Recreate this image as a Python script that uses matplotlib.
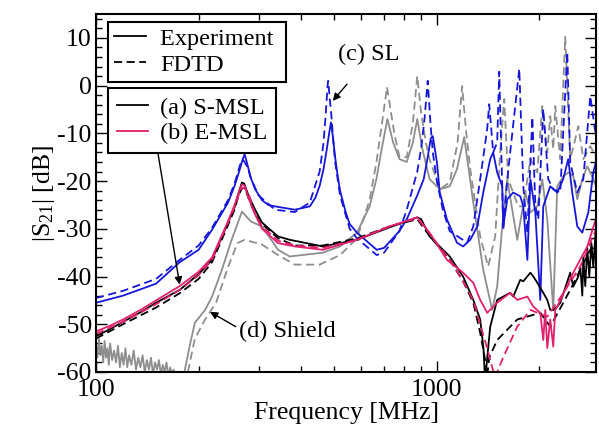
import matplotlib
matplotlib.use("Agg")
import matplotlib.pyplot as plt
from matplotlib.lines import Line2D
from matplotlib.ticker import FixedLocator, FixedFormatter, MultipleLocator, NullFormatter

plt.rcParams['font.family'] = ['Liberation Serif', 'DejaVu Serif']
plt.rcParams['mathtext.fontset'] = 'custom'
plt.rcParams['mathtext.rm'] = 'Liberation Serif'
plt.rcParams['mathtext.it'] = 'Liberation Serif:italic'
plt.rcParams['axes.unicode_minus'] = False

# (c) SL - blue
sl_exp_f = [100, 120, 150, 176, 200, 219, 244, 255, 263, 270, 273, 278, 285, 293, 307, 320, 335,
            383, 424, 440, 453, 465, 475, 483, 489, 495, 503, 512, 520, 540, 555, 583, 666, 700,
            776, 816, 876, 915, 940, 960, 973, 985, 1000, 1020, 1070, 1145, 1194, 1253, 1314,
            1368, 1434, 1463, 1503, 1555, 1566, 1609, 1675, 1757, 1793, 1843, 1881, 1945, 2011,
            2052, 2151, 2255, 2348, 2429, 2496, 2582, 2671, 2781, 2877, 2975]
sl_exp_db = [-45.5, -44, -41.5, -37, -34.4, -30.2, -24.5, -21, -18, -15.2, -14.4, -16.5, -19.5,
             -21.7, -24, -25, -25.3, -26, -25.3, -23.5, -21, -17.5, -13.5, -10, -7.7, -10.5, -15,
             -19, -22, -26.5, -29, -30.8, -34.4, -34, -30.5, -28, -23, -19.6, -15, -11, -10.6,
             -13, -16, -22.4, -28, -32.9, -33.7, -32.3, -29.5, -22.4, -15.4, -14, -18.2, -21.1,
             -29.5, -23.8, -22.4, -23.2, -25.3, -36.5, -19.6, -26.6, -44.9, -25.3, -21.1, -22.4,
             -19.6, -15.4, -22.4, -29.5, -30.8, -26.6, -18.2, -14]
sl_fdtd_f = [100, 120, 150, 176, 200, 219, 244, 255, 265, 270, 278, 285, 300, 335, 383, 424, 453,
             465, 472, 478, 480, 484, 490, 496, 503, 520, 555, 583, 666, 700, 776, 816, 876, 900,
             920, 935, 940, 948, 958, 973, 1000, 1041, 1091, 1227, 1279, 1340, 1405, 1424, 1463,
             1503, 1524, 1555, 1566, 1609, 1745, 1793, 1843, 1906, 1945, 1984, 2052, 2122, 2195,
             2301, 2413, 2462, 2582, 2689, 2819, 2955]
sl_fdtd_db = [-44.5, -43, -40.5, -36.5, -33.5, -29.8, -24, -20.5, -16.5, -15.5, -17, -19.5, -23,
              -26, -26.5, -24.5, -18, -12, -6, 0, 1, -2, -6, -11, -16, -23, -30, -32, -35.5, -35,
              -30.5, -26, -18, -13, -7, -1, 1, -3, -8, -14, -20, -26, -30.5, -32.9, -29.5, -19.6,
              -9.1, -3.9, -14, -11.9, 2.9, -21.1, -30.2, -19.6, 3.5, -21.1, -30.8, -6.6, -25.3,
              -28, -4.9, -19.6, -21.7, -22.4, 7, -16.1, -22.4, -19.6, -2.2, -12.7]

# (d) Shield - gray
sh_exp_f = [100, 101, 102, 103, 104, 105, 106, 107, 108, 109, 110,
            111.5, 113, 114.5, 116, 117.5, 119, 120.5, 122, 123.5, 125,
            127, 129, 131, 133, 135, 137, 139, 141, 143, 145, 147, 149, 151, 153, 155, 157, 159,
            161, 163, 165, 167, 169, 171, 173, 175, 177, 179,
            181, 189, 195, 209, 219, 234, 250, 268, 285, 307, 342, 370, 463, 520, 583, 635, 665,
            690, 716, 745, 777, 816, 850, 876, 905, 952, 1020, 1091, 1145, 1203, 1279, 1368, 1453,
            1503, 1555, 1609, 1664, 1721, 1818, 1881, 1971, 2038, 2108, 2195, 2255, 2348, 2429,
            2513, 2582, 2671, 2762, 2877, 2975]
sh_exp_db = [-54, -57, -53, -56.5, -54.5, -58, -53.5, -57, -55, -58.5, -54,
             -57.5, -55.5, -58, -54.5, -59, -56, -58.5, -55, -59, -56.5,
             -58.5, -55.5, -59.5, -57, -59, -56.5, -60, -57.5, -59.5, -57, -60.5, -58, -59.5,
             -57.5, -60.5, -58.5, -60, -58, -61, -59, -60.5, -59.5, -61, -60, -61.5, -60.5, -62,
             -60.6, -54, -49.7, -47, -44.2, -38.6, -32.3, -26.4, -28.5, -29.5, -34.4, -35.8, -35,
             -33.7, -30.8, -25.3, -19.5, -13, -7, -12, -15.4, -16, -12, -7, -13, -19.6, -21.7,
             -21.1, -17.5, -10.8, -24.5, -38.6, -47, -42.1, -29.5, -19.6, -26, -32.3, -22.4, -26.6,
             -25.3, -19.6, -28, -47, -21.1, -19, -18.2, -19, -23.8, -19.6, -16.9, -19.6, -22.4]
sh_fdtd_f = [186, 195, 209, 225, 244, 260, 273, 307, 342, 383, 453, 520, 583, 635, 665, 690, 714,
             735, 750, 777, 816, 850, 876, 900, 929, 952, 1020, 1091, 1150, 1186, 1220, 1253, 1340,
             1414, 1483, 1534, 1576, 1619, 1733, 1793, 1881, 1971, 2038, 2108, 2151, 2195, 2225,
             2301, 2380, 2462, 2547, 2600, 2689, 2819, 2955]
sh_fdtd_db = [-60, -53, -49, -45.5, -38, -33, -32.3, -33.3, -35.5, -37.5, -37.5, -35.5, -32, -24,
              -16, -8, -0.3, -6, -10, -15, -15, -8, 2, -6, -12, -15.4, -21.7, -20.3, -12, -0.1,
              -10, -17.5, -31.6, -37.9, -31.6, -14, -2.8, -19.6, -25.3, -25.3, -15.4, -18.2, -4.3,
              -14, -6.4, -13.3, -4.3, -15.4, 10.2, -15.4, -11.2, -8.5, -15.4, -12.7, -15.4]

# (a) S-MSL - black
smsl_exp_f = [100, 110, 120, 135, 150, 176, 200, 219, 243, 255, 262, 268, 272, 280, 293, 307, 342,
              370, 463, 583, 726, 876, 900, 952, 1091, 1194, 1279, 1340, 1370, 1385, 1414, 1434,
              1503, 1641, 1675, 1757, 1793, 1881, 1919, 1971, 2052, 2108, 2151, 2195, 2255, 2301,
              2462, 2513, 2600, 2635, 2671, 2689, 2725, 2762, 2800, 2840, 2877, 2920, 2975]
smsl_exp_db = [-52.5, -51, -49.5, -47.5, -45.5, -42.8, -39.5, -36.5, -29, -25.5, -22.5, -20.3,
               -20.5, -23, -26, -28.7, -31.6, -32.3, -33.7, -32.3, -29.7, -27.6, -28, -31.6, -35.8,
               -40, -44.9, -49, -55, -62, -55, -50.5, -44.9, -43.4, -44.2, -40.7, -41, -39.2, -40,
               -41.3, -43.4, -44.9, -47, -47, -46.3, -45.5, -39.2, -42.1, -40, -38, -44, -36, -42,
               -34, -40, -33, -38, -31, -33]
smsl_fdtd_f = [100, 120, 150, 176, 200, 219, 243, 255, 262, 268, 273, 280, 293, 307, 342, 383, 463,
               583, 726, 876, 952, 1091, 1194, 1279, 1340, 1390, 1405, 1424, 1503, 1721, 2011, 2151,
               2462, 2819, 2975]
smsl_fdtd_db = [-53, -50, -46.5, -43.5, -40.5, -37, -29.5, -26, -23, -21.5, -21.5, -23.5, -27, -29,
                -32, -33.5, -33.5, -32, -29.5, -28, -31.5, -36.5, -41, -45.5, -51.8, -58, -61, -57,
                -53.3, -49, -47.6, -50.5, -42.8, -34.4, -32]

# (b) E-MSL - pink
emsl_exp_f = [100, 110, 120, 135, 150, 176, 200, 219, 243, 255, 262, 268, 273, 280, 293, 307, 342,
              383, 463, 583, 726, 876, 952, 1070, 1194, 1279, 1340, 1405, 1503, 1641, 1721, 1843,
              1919, 2011, 2052, 2080, 2108, 2151, 2195, 2225, 2255, 2513, 2762, 2955]
emsl_exp_db = [-51.5, -50.3, -49, -47, -45, -42, -39, -36, -28.7, -25, -22.5, -20.7, -21, -23.5,
               -27, -30, -33, -33.7, -34.4, -32.3, -29.5, -27.6, -30.8, -36.5, -39.2, -41.3, -44.9,
               -47.6, -45.5, -43.4, -44.9, -44.2, -46.3, -47.6, -53.3, -47, -55, -49, -54.7, -47,
               -46.3, -39.2, -33.7, -27]
emsl_fdtd_f = [100, 120, 150, 176, 200, 219, 243, 255, 262, 268, 273, 280, 293, 307, 342, 383, 463,
               583, 726, 876, 952, 1091, 1194, 1279, 1340, 1405, 1453, 1483, 1503, 1566, 1721, 1881,
               2108, 2348, 2635, 2975]
emsl_fdtd_db = [-52, -49.5, -45.8, -42.8, -39.7, -36.5, -29, -25.5, -23, -21.5, -21.5, -22.5, -27,
                -29.5, -32.5, -33.5, -34, -32.3, -29.5, -27.8, -31, -36.5, -41, -45, -50, -55, -59,
                -61, -60, -56.9, -50.5, -47, -48.4, -43.5, -37.9, -29]

BLUE = '#1616d8'
GRAY = '#8e8e8e'
PINK = '#e2206e'
DASH = (0, (4.5, 2.5))

fig = plt.figure(figsize=(5.99, 4.28), dpi=100)
ax = fig.add_axes([96 / 599, 1 - 372 / 428, 500 / 599, 358 / 428])

lw = 1.3
ax.plot(sh_exp_f, sh_exp_db, color=GRAY, lw=lw)
ax.plot(sh_fdtd_f, sh_fdtd_db, color=GRAY, lw=lw, ls=DASH)
ax.plot(sl_exp_f, sl_exp_db, color=BLUE, lw=lw)
ax.plot(sl_fdtd_f, sl_fdtd_db, color=BLUE, lw=lw, ls=DASH)
ax.plot(smsl_exp_f, smsl_exp_db, color='black', lw=lw)
ax.plot(smsl_fdtd_f, smsl_fdtd_db, color='black', lw=lw, ls=DASH)
ax.plot(emsl_exp_f, emsl_exp_db, color=PINK, lw=lw)
ax.plot(emsl_fdtd_f, emsl_fdtd_db, color=PINK, lw=lw, ls=DASH)

ax.set_xscale('log')
ax.set_xlim(100, 2930)
ax.set_ylim(-60, 15)
ax.xaxis.set_major_locator(FixedLocator([100, 1000]))
ax.xaxis.set_major_formatter(FixedFormatter(['100', '1000']))
ax.xaxis.set_minor_locator(FixedLocator([200, 300, 400, 500, 600, 700, 800, 900, 2000]))
ax.xaxis.set_minor_formatter(NullFormatter())
ax.yaxis.set_major_locator(MultipleLocator(10))
ax.yaxis.set_minor_locator(MultipleLocator(2))
ax.tick_params(which='both', direction='in', top=True, right=True, labelsize=18.5, width=1.0)
ax.tick_params(which='major', length=8)
ax.tick_params(which='minor', length=4.5)
ax.tick_params(axis='x', pad=5)
ax.tick_params(axis='y', pad=3)
for s in ax.spines.values():
    s.set_linewidth(1.5)

ax.set_xlabel('Frequency [MHz]', fontsize=18.5, labelpad=1)
ax.set_ylabel(r'|S$_{\mathit{21}}$| [dB]', fontsize=18.5, labelpad=0)

# legends
h1 = [Line2D([], [], color='black', lw=lw), Line2D([], [], color='black', lw=lw, ls=DASH)]
leg1 = ax.legend(h1, ['Experiment ', 'FDTD'], loc='upper left', bbox_to_anchor=(0.024, 0.978),
                 borderaxespad=0, fontsize=17.5, fancybox=False, framealpha=1, edgecolor='black',
                 handlelength=1.3, handletextpad=0.6, labelspacing=0.15, borderpad=0.25)
leg1.get_frame().set_linewidth(1.5)
ax.add_artist(leg1)
h2 = [Line2D([], [], color='black', lw=lw), Line2D([], [], color=PINK, lw=lw)]
leg2 = ax.legend(h2, ['(a) S-MSL', '(b) E-MSL'], loc='upper left', bbox_to_anchor=(0.024, 0.793),
                 borderaxespad=0, fontsize=17.5, fancybox=False, framealpha=1, edgecolor='black',
                 handlelength=1.3, handletextpad=0.5, labelspacing=0.15, borderpad=0.35)
leg2.get_frame().set_linewidth(1.5)

arrow = dict(arrowstyle='-|>', color='black', lw=1.0, mutation_scale=11, shrinkA=0, shrinkB=0)
ax.annotate('', xy=(176, -41.7), xytext=(152, -14.2), arrowprops=arrow)
ax.annotate('', xy=(495, -3.2), xytext=(545, 0.3), arrowprops=arrow)
ax.text(632, 6.6, '(c) SL', fontsize=17.5, ha='center', va='center')
ax.annotate('', xy=(216, -47.4), xytext=(257, -50.5), arrowprops=arrow)
ax.text(263, -51.6, '(d) Shield', fontsize=17.5, ha='left', va='center')

fig.savefig('out.png', dpi=100)
